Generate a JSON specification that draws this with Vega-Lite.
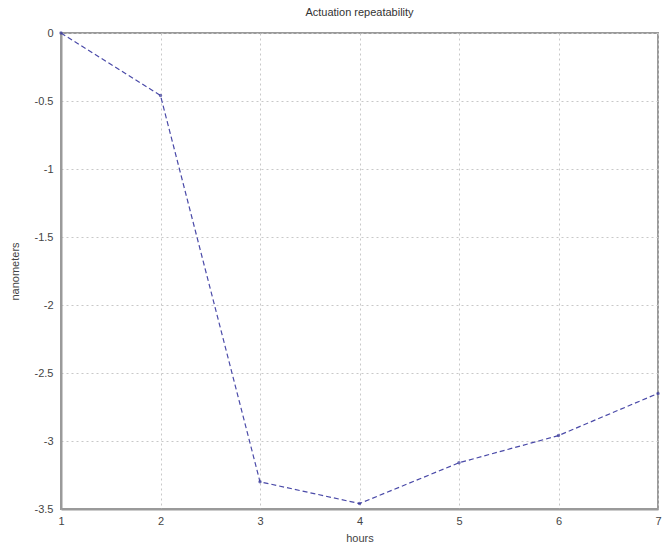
{
  "$schema": "https://vega.github.io/schema/vega-lite/v6.json",
  "width": 597,
  "height": 476,
  "autosize": {"type": "none"},
  "padding": {"left": 61, "top": 33, "right": 6, "bottom": 39},
  "background": "white",
  "title": {
    "text": "Actuation repeatability",
    "font": "Liberation Sans",
    "fontSize": 11,
    "fontWeight": "normal",
    "color": "#333333",
    "offset": 9
  },
  "data": {
    "values": [
      {"hours": 1, "nm": 0},
      {"hours": 2, "nm": -0.46},
      {"hours": 3, "nm": -3.3},
      {"hours": 4, "nm": -3.46},
      {"hours": 5, "nm": -3.16},
      {"hours": 6, "nm": -2.96},
      {"hours": 7, "nm": -2.65}
    ]
  },
  "config": {
    "view": {"stroke": "#9a9a9a", "strokeWidth": 2},
    "axis": {
      "labelFont": "Liberation Sans",
      "titleFont": "Liberation Sans",
      "labelFontSize": 11,
      "titleFontSize": 11,
      "titleFontWeight": "normal",
      "labelColor": "#444444",
      "titleColor": "#444444",
      "domainColor": "#9a9a9a",
      "domainWidth": 2,
      "gridColor": "#c8c8c8",
      "gridDash": [2, 3],
      "gridWidth": 1,
      "ticks": false,
      "labelFlush": false,
      "labelOverlap": false
    }
  },
  "layer": [
    {
      "mark": {"type": "line", "color": "#4a4aa8", "strokeWidth": 1.2, "strokeDash": [5, 3]},
      "encoding": {
        "x": {
          "field": "hours",
          "type": "quantitative",
          "scale": {"domain": [1, 7], "nice": false},
          "axis": {"values": [1, 2, 3, 4, 5, 6, 7], "format": "d", "title": "hours", "labelPadding": 6, "titlePadding": 6}
        },
        "y": {
          "field": "nm",
          "type": "quantitative",
          "scale": {"domain": [-3.5, 0], "nice": false, "zero": false},
          "axis": {
            "values": [0, -0.5, -1, -1.5, -2, -2.5, -3, -3.5],
            "labelExpr": "'' + datum.value",
            "title": "nanometers",
            "labelPadding": 8,
            "titlePadding": 14
          }
        }
      }
    },
    {
      "mark": {"type": "point", "shape": "circle", "filled": true, "color": "#3a3a9a", "size": 12},
      "encoding": {
        "x": {"field": "hours", "type": "quantitative"},
        "y": {"field": "nm", "type": "quantitative"}
      }
    }
  ]
}
